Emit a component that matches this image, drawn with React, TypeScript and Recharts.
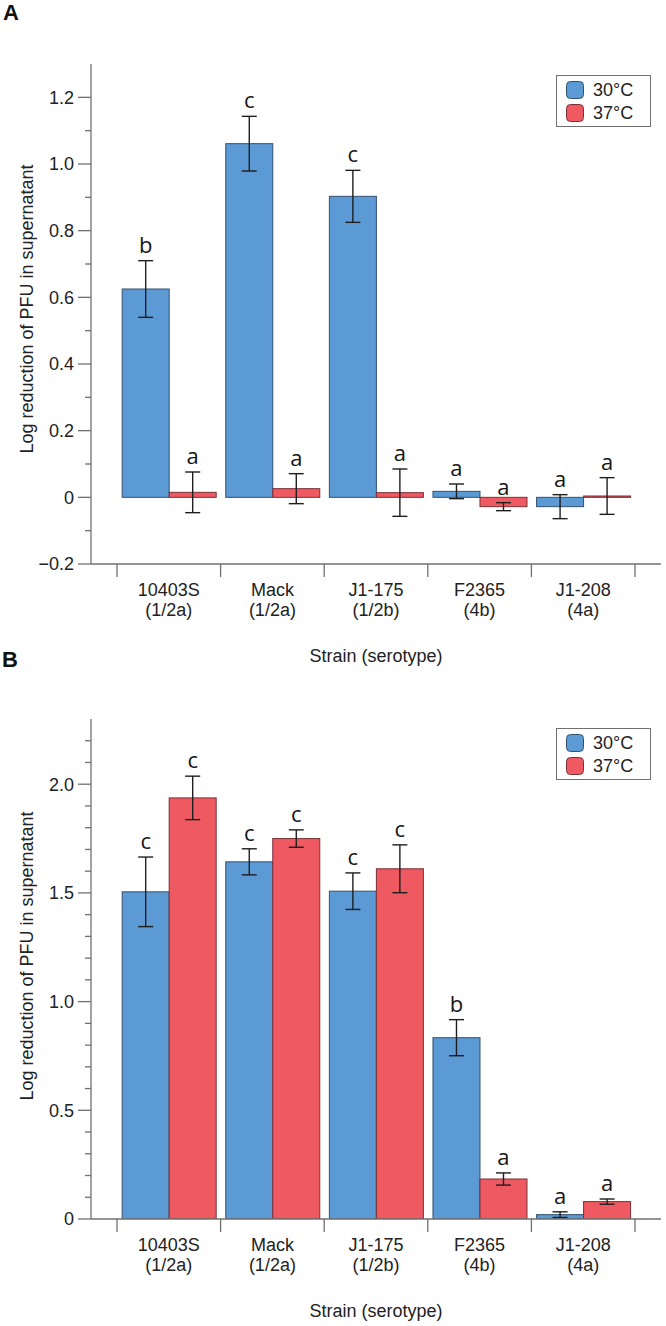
import React from 'react';
import { ComposedChart, Bar, XAxis, YAxis, ErrorBar, Legend } from 'recharts';

// ---------- data ----------
const strains = ['10403S', 'Mack', 'J1-175', 'F2365', 'J1-208'];
const serotypes = ['(1/2a)', '(1/2a)', '(1/2b)', '(4b)', '(4a)'];
const seriesNames = ['30°C', '37°C'];

// Panel A
const aMean30 = [0.625, 1.061, 0.903, 0.018, -0.028];
const aErr30 = [0.085, 0.082, 0.078, 0.022, 0.036];
const aMean37 = [0.015, 0.026, 0.014, -0.028, 0.004];
const aErr37 = [0.061, 0.045, 0.071, 0.012, 0.055];
const aLetters30 = ['b', 'c', 'c', 'a', 'a'];
const aLetters37 = ['a', 'a', 'a', 'a', 'a'];
const aDomain = [-0.2, 1.3];
const aMajorTicks = [-0.2, 0, 0.2, 0.4, 0.6, 0.8, 1.0, 1.2];
const aTickLabels = ['\u22120.2', '0', '0.2', '0.4', '0.6', '0.8', '1.0', '1.2'];
const aMinorTicks = [-0.1, 0.1, 0.3, 0.5, 0.7, 0.9, 1.1];

// Panel B
const bMean30 = [1.505, 1.643, 1.508, 0.834, 0.02];
const bErr30 = [0.16, 0.06, 0.084, 0.083, 0.013];
const bMean37 = [1.937, 1.75, 1.611, 0.184, 0.08];
const bErr37 = [0.1, 0.04, 0.11, 0.028, 0.012];
const bLetters30 = ['c', 'c', 'c', 'b', 'a'];
const bLetters37 = ['c', 'c', 'c', 'a', 'a'];
const bDomain = [0, 2.3];
const bMajorTicks = [0, 0.5, 1.0, 1.5, 2.0];
const bTickLabels = ['0', '0.5', '1.0', '1.5', '2.0'];
const bMinorTicks = [0.1, 0.2, 0.3, 0.4, 0.6, 0.7, 0.8, 0.9, 1.1, 1.2, 1.3, 1.4, 1.6, 1.7, 1.8, 1.9, 2.1, 2.2];

// ---------- styles ----------
const CHART_W = 666;
const Y_AXIS_W = 91;
const M_RIGHT = 5;
const X_PAD = 26;
const BAND = (CHART_W - Y_AXIS_W - M_RIGHT - 2 * X_PAD) / strains.length;
const AXIS = '#707070';
const FONT = '"Liberation Sans", Arial, Helvetica, sans-serif';
const LETTER_FONT = '"Open Sans", "Noto Sans", sans-serif';
const BLUE = '#5b9ad4';
const BLUE_STROKE = '#34506d';
const RED = '#ef5a62';
const RED_STROKE = '#7a3036';

function buildRows(m30: number[], e30: number[], m37: number[], e37: number[], l30: string[], l37: string[]) {
  return strains.map((s, i) => ({
    strain: s,
    m30: m30[i],
    e30: e30[i],
    m37: m37[i],
    e37: e37[i],
    l30: l30[i],
    l37: l37[i],
  }));
}

function makeBarShape(meanKey: string, errKey: string, letterKey: string, domain: number[], fill: string, stroke: string) {
  return (props: any) => {
    const { x, y, width, height, payload, background } = props;
    const ry = Math.min(y, y + height);
    const rh = Math.abs(height);
    let letterY = ry - 8;
    if (background && typeof background.y === 'number' && typeof background.height === 'number') {
      const top = payload[meanKey] + payload[errKey];
      const py = background.y + ((domain[1] - top) / (domain[1] - domain[0])) * background.height;
      letterY = py - 8;
    }
    return (
      <g>
        <rect x={x} y={ry} width={width} height={rh} fill={fill} stroke={stroke} strokeWidth={1} />
        <text
          x={x + width / 2}
          y={letterY}
          textAnchor="middle"
          fontFamily={LETTER_FONT}
          fontSize={22}
          fill="#151515"
        >
          {payload[letterKey]}
        </text>
      </g>
    );
  };
}

function makeYTick(majors: number[], labels: string[]) {
  return (props: any) => {
    const { x, y, payload } = props;
    const v = payload.value;
    const idx = majors.findIndex((m) => Math.abs(m - v) < 1e-9);
    const isMajor = idx >= 0;
    return (
      <g>
        <line x1={x - (isMajor ? 13 : 6)} x2={x} y1={y} y2={y} stroke={AXIS} strokeWidth={1.3} />
        {isMajor && (
          <text x={x - 17} y={y} dy="0.36em" textAnchor="end" fontFamily={FONT} fontSize={18} fill="#222">
            {labels[idx]}
          </text>
        )}
      </g>
    );
  };
}

const CatTick = (props: any) => {
  const { x, y, payload, index } = props;
  const i = strains.indexOf(payload.value);
  const half = BAND / 2;
  return (
    <g>
      <line x1={x - half} x2={x - half} y1={y} y2={y + 13} stroke={AXIS} strokeWidth={1.3} />
      {index === strains.length - 1 && (
        <line x1={x + half} x2={x + half} y1={y} y2={y + 13} stroke={AXIS} strokeWidth={1.3} />
      )}
      <text x={x} y={y + 31.5} textAnchor="middle" fontFamily={FONT} fontSize={18} fill="#222">
        {payload.value}
      </text>
      <text x={x} y={y + 51.5} textAnchor="middle" fontFamily={FONT} fontSize={18} fill="#222">
        {serotypes[i]}
      </text>
    </g>
  );
};

const LegendBox = (props: any) => {
  const payload = props.payload || [];
  const colors = [BLUE, RED];
  const strokes = [BLUE_STROKE, RED_STROKE];
  return (
    <div
      style={{
        border: `1.3px solid ${AXIS}`,
        background: '#fff',
        width: 95,
        boxSizing: 'border-box',
        paddingTop: 2.75,
        paddingBottom: 2.5,
      }}
    >
      {seriesNames.map((name, i) => {
        const item = payload[i];
        return (
          <div key={name} style={{ display: 'flex', alignItems: 'center', height: 22.5 }}>
            <svg width={18} height={18} style={{ marginLeft: 9, display: 'block' }}>
              <rect x={0.5} y={0.5} width={17} height={17} rx={4} ry={4} fill={(item && item.color) || colors[i]} stroke={strokes[i]} strokeWidth={1} />
            </svg>
            <span style={{ marginLeft: 9, fontFamily: FONT, fontSize: 18, lineHeight: 1, color: '#222' }}>
              {(item && item.value) || name}
            </span>
          </div>
        );
      })}
    </div>
  );
};

type PanelProps = {
  top: number;
  height: number;
  marginTop: number;
  marginBottom: number;
  rows: any[];
  domain: number[];
  majors: number[];
  labels: string[];
  minors: number[];
  legendTop: number;
  yLabelShift: number;
};

function Panel(p: PanelProps) {
  const allTicks = [...p.majors, ...p.minors].sort((a, b) => a - b);
  return (
    <div style={{ position: 'absolute', left: 0, top: p.top, width: CHART_W, height: p.height }}>
      <ComposedChart
        width={CHART_W}
        height={p.height}
        data={p.rows}
        margin={{ top: p.marginTop, right: M_RIGHT, bottom: p.marginBottom, left: 0 }}
        barCategoryGap="5%"
        barGap={0}
      >
        <XAxis
          dataKey="strain"
          type="category"
          interval={0}
          height={100}
          tickLine={false}
          tickSize={0}
          tickMargin={0}
          padding={{ left: X_PAD, right: X_PAD }}
          axisLine={{ stroke: AXIS, strokeWidth: 1.3 }}
          tick={CatTick}
          label={{
            content: (lp: any) => {
              const vb = lp.viewBox || { x: Y_AXIS_W, y: 0, width: 570, height: 100 };
              return (
                <text x={vb.x + vb.width / 2} y={vb.y + 97.5} textAnchor="middle" fontFamily={FONT} fontSize={18} fill="#222">
                  Strain (serotype)
                </text>
              );
            },
          }}
        />
        <XAxis
          xAxisId="top"
          dataKey="strain"
          orientation="top"
          height={0}
          tick={false}
          tickLine={false}
          axisLine={{ stroke: AXIS, strokeWidth: 1.3 }}
        />
        <YAxis
          type="number"
          domain={p.domain}
          allowDataOverflow
          ticks={allTicks}
          interval={0}
          width={Y_AXIS_W}
          tickLine={false}
          tickSize={0}
          tickMargin={0}
          axisLine={{ stroke: AXIS, strokeWidth: 1.3 }}
          tick={makeYTick(p.majors, p.labels)}
          label={{
            content: (lp: any) => {
              const vb = lp.viewBox || { x: 0, y: p.marginTop, width: Y_AXIS_W, height: 500 };
              const cx = vb.x + 33;
              const cy = vb.y + vb.height / 2 + p.yLabelShift;
              return (
                <text
                  transform={`translate(${cx}, ${cy}) rotate(-90)`}
                  textAnchor="middle"
                  fontFamily={FONT}
                  fontSize={18}
                  fill="#222"
                >
                  Log reduction of PFU in supernatant
                </text>
              );
            },
          }}
        />
        <YAxis
          yAxisId="right"
          orientation="right"
          type="number"
          domain={p.domain}
          width={0}
          tick={false}
          tickLine={false}
          axisLine={{ stroke: AXIS, strokeWidth: 1.3 }}
        />
        <Legend
          layout="horizontal"
          align="center"
          verticalAlign="middle"
          wrapperStyle={{ top: p.legendTop, left: 556, width: 95, height: 52 }}
          content={LegendBox}
        />
        <Bar
          dataKey="m30"
          name={seriesNames[0]}
          fill={BLUE}
          stroke={BLUE_STROKE}
          isAnimationActive={false}
          shape={makeBarShape('m30', 'e30', 'l30', p.domain, BLUE, BLUE_STROKE)}
        >
          <ErrorBar dataKey="e30" width={7.5} stroke="#1e1e1e" strokeWidth={1.4} direction="y" isAnimationActive={false} />
        </Bar>
        <Bar
          dataKey="m37"
          name={seriesNames[1]}
          fill={RED}
          stroke={RED_STROKE}
          isAnimationActive={false}
          shape={makeBarShape('m37', 'e37', 'l37', p.domain, RED, RED_STROKE)}
        >
          <ErrorBar dataKey="e37" width={7.5} stroke="#1e1e1e" strokeWidth={1.4} direction="y" isAnimationActive={false} />
        </Bar>
      </ComposedChart>
    </div>
  );
}

export default function App() {
  const rowsA = buildRows(aMean30, aErr30, aMean37, aErr37, aLetters30, aLetters37);
  const rowsB = buildRows(bMean30, bErr30, bMean37, bErr37, bLetters30, bLetters37);
  return (
    <div style={{ position: 'absolute', left: 0, top: 0, width: 666, height: 1326, background: '#fff', overflow: 'hidden' }}>
      <Panel
        top={0}
        height={680}
        marginTop={64}
        marginBottom={16}
        rows={rowsA}
        domain={aDomain}
        majors={aMajorTicks}
        labels={aTickLabels}
        minors={aMinorTicks}
        legendTop={75}
        yLabelShift={-5}
      />
      <Panel
        top={660}
        height={666}
        marginTop={59}
        marginBottom={7}
        rows={rowsB}
        domain={bDomain}
        majors={bMajorTicks}
        labels={bTickLabels}
        minors={bMinorTicks}
        legendTop={68}
        yLabelShift={-13}
      />
      <svg width={666} height={1326} style={{ position: 'absolute', left: 0, top: 0, pointerEvents: 'none' }}>
        <text x={3} y={20} fontFamily={FONT} fontWeight="bold" fontSize={22} fill="#111">A</text>
        <text x={2} y={667} fontFamily={FONT} fontWeight="bold" fontSize={22} fill="#111">B</text>
      </svg>
    </div>
  );
}
